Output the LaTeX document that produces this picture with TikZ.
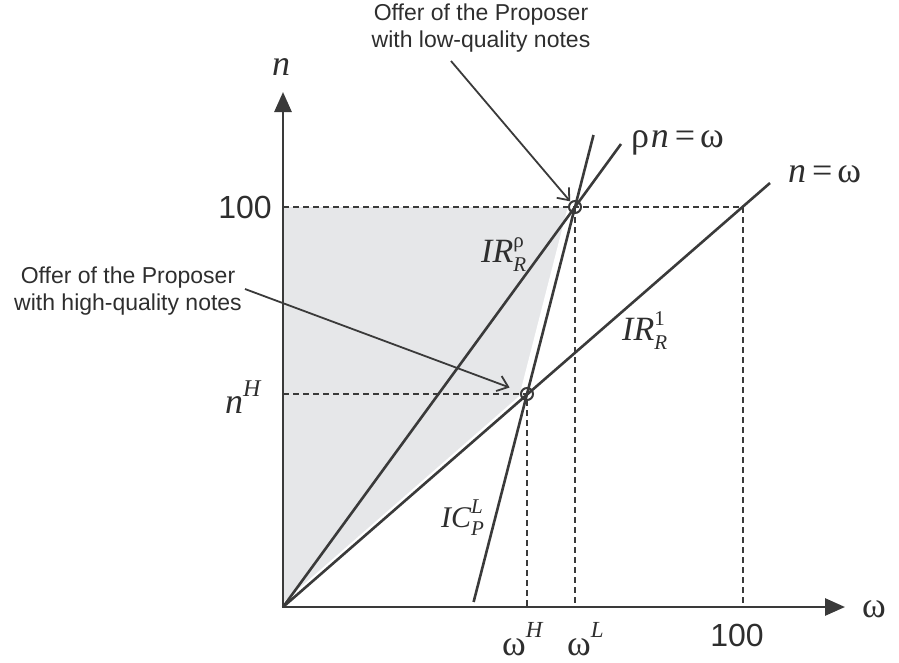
\documentclass[tikz,border=0pt]{standalone}
\usepackage{fontspec}
\setmainfont{Liberation Sans}
\newfontfamily\tms{Liberation Serif}
\usetikzlibrary{arrows.meta}
\definecolor{ink}{HTML}{3A3A3A}
\definecolor{shadefill}{HTML}{E6E7E9}
\definecolor{txt}{HTML}{2E2E2E}
\newcommand{\fbigm}{\fontsize{36}{36}\selectfont\tms}
\newcommand{\fmidm}{\fontsize{34}{34}\selectfont\tms}
\newcommand{\fsmidm}{\fontsize{30}{30}\selectfont\tms}
\newcommand{\fsmm}{\fontsize{21}{21}\selectfont\tms}
% base, superscript, subscript
\newcommand{\sslab}[3]{{\fmidm\itshape #1}\rlap{\raisebox{15pt}{\fsmm #2}}\raisebox{-9pt}{\fsmm #3}}
\newcommand{\sslabs}[3]{{\fsmidm\itshape #1}\rlap{\raisebox{14pt}{\fsmm #2}}\raisebox{-8pt}{\fsmm #3}}
\begin{document}
\begin{tikzpicture}[x=1pt,y=-1pt,
  axis/.style={draw=ink,line width=2.8pt},
  mainline/.style={draw=ink,line width=2.6pt},
  guide/.style={draw=ink,line width=1.2pt,dash pattern=on 6pt off 4pt},
  ring/.style={circle,draw=ink,line width=2pt,minimum size=12pt,inner sep=0pt,fill=none},
  callout/.style={text=txt,font=\fontsize{23}{27}\selectfont,align=center,inner sep=0pt},
  callarrow/.style={draw=ink,line width=1.8pt,-{Straight Barb[length=10pt,width=16pt,line width=1.8pt]}},
  lab/.style={text=txt,inner sep=0pt}
]
\useasboundingbox (0,0) rectangle (899,662);
% key points
\coordinate (O) at (283,607);
\coordinate (yTop) at (283,92);
\coordinate (xEnd) at (845,607);
\coordinate (A) at (575,207);
\coordinate (B) at (527,394);
\coordinate (ICb) at (473.6,602);
\coordinate (ICt) at (593.5,135);
\coordinate (Rt) at (621,144);
\coordinate (Nt) at (770,183);
\coordinate (X100) at (743,607);
\coordinate (Y100) at (283,207);
\coordinate (P100) at (743,207);
\coordinate (WL) at (575,607);
\coordinate (WH) at (527,607);
\coordinate (NH) at (283,394);
% shaded region
\fill[shadefill] (Y100) -- (A) -- (B) -- (O) -- cycle;
\draw[white,line width=14pt] (A) -- (B);
\draw[white,line width=7pt] (B) -- (O);
% guides
\draw[guide] (Y100) -- (P100) -- (X100);
\draw[guide] (A) -- (WL);
\draw[guide] (NH) -- (B) -- (WH);
% lines
\draw[mainline] (O) -- (Rt);
\draw[mainline] (O) -- (Nt);
\draw[mainline] (ICb) -- (ICt);
% axes
\draw[axis,{Triangle[length=20pt,width=17pt]}-{Triangle[length=20pt,width=17pt]}] (yTop) -- (O) -- (xEnd);
% rings
\node[ring] (cA) at (A) {};
\node[ring] (cB) at (B) {};
% callouts
\node[callout,anchor=north] (lowtxt) at (481,4) {Offer of the Proposer\\with low-quality notes};
\node[callout,anchor=north] (hightxt) at (128,267) {Offer of the Proposer\\with high-quality notes};
\coordinate (lowStart) at (451,61);
\coordinate (highStart) at (245,289);
\draw[callarrow,shorten >=7.4pt] (lowStart) -- (cA.center);
\draw[callarrow,shorten >=18.6pt] (highStart) -- (cB.center);
% axis labels
\node[lab,anchor=base] (nlab) at (281,75) {\fbigm\itshape n};
\node[lab,anchor=base west] (wlab) at (862,617) {\fbigm ω};
\node[lab,anchor=east,font=\fontsize{32}{32}\selectfont] (y100) at (272,207) {100};
\node[lab,anchor=center,font=\fontsize{32}{32}\selectfont] (x100) at (737,635) {100};
\node[lab,anchor=base west] (nH) at (225,413) {{\fbigm\itshape n}\raisebox{17pt}{\fontsize{24}{24}\selectfont\tms\itshape H}};
\node[lab,anchor=base west] (wH) at (502,655) {{\fbigm ω}\raisebox{18pt}{\fontsize{23}{23}\selectfont\tms\itshape H}};
\node[lab,anchor=base west] (wL) at (567,655) {{\fbigm ω}\raisebox{18pt}{\fontsize{23}{23}\selectfont\tms\itshape L}};
% line labels
\node[lab,anchor=base west] (rholab) at (631,147) {{\fbigm ρ}\,{\fbigm\itshape n}\hspace{6pt}{\fbigm =}\hspace{5pt}{\fbigm ω}};
\node[lab,anchor=base west] (nwlab) at (788,182) {{\fbigm\itshape n}\hspace{6pt}{\fbigm =}\hspace{5pt}{\fbigm ω}};
\node[lab,anchor=base west] (irrho) at (481,262) {\sslab{IR}{ρ}{\itshape R}};
\node[lab,anchor=base west] (irone) at (622,340) {\sslab{IR}{1}{\itshape R}};
\node[lab,anchor=base west] (icl) at (441,527) {\sslabs{IC}{\itshape L}{\itshape P}};
\end{tikzpicture}
\end{document}
